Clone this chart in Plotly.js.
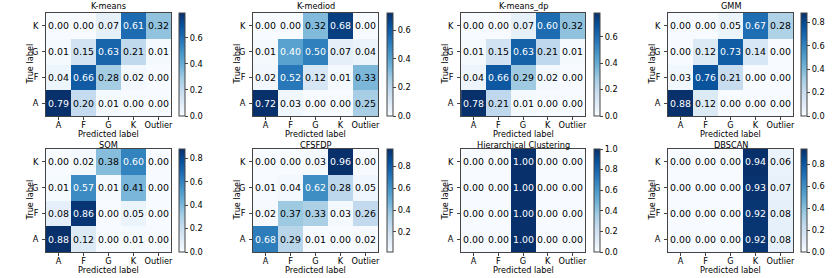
<!DOCTYPE html>
<html>
<head>
<meta charset="utf-8">
<script src="https://cdn.plot.ly/plotly-3.0.1.min.js"></script>
<style>html,body{margin:0;padding:0;background:#fff;}#chart{width:834px;height:278px;}</style>
</head>
<body>
<div id="chart"></div>
<script>
// ---- data ----
const predictedLabels = ['A', 'F', 'G', 'K', 'Outlier'];
const trueLabels = ['A', 'F', 'G', 'K'];   // bottom to top
const titles = ['K-means', 'K-mediod', 'K-means_dp', 'GMM', 'SOM', 'CFSFDP', 'Hierarchical Clustering', 'DBSCAN'];

// rows: true label A, F, G, K ; columns: A, F, G, K, Outlier
const kmeans = [
  [0.79, 0.20, 0.01, 0.00, 0.00],
  [0.04, 0.66, 0.28, 0.02, 0.00],
  [0.01, 0.15, 0.63, 0.21, 0.01],
  [0.00, 0.00, 0.07, 0.61, 0.32]
];
const kmediod = [
  [0.72, 0.03, 0.00, 0.00, 0.25],
  [0.02, 0.52, 0.12, 0.01, 0.33],
  [0.01, 0.40, 0.50, 0.07, 0.04],
  [0.00, 0.00, 0.32, 0.68, 0.00]
];
const kmeansDp = [
  [0.78, 0.21, 0.01, 0.00, 0.00],
  [0.04, 0.66, 0.29, 0.02, 0.00],
  [0.01, 0.15, 0.63, 0.21, 0.01],
  [0.00, 0.00, 0.07, 0.60, 0.32]
];
const gmm = [
  [0.88, 0.12, 0.00, 0.00, 0.00],
  [0.03, 0.76, 0.21, 0.00, 0.00],
  [0.00, 0.12, 0.73, 0.14, 0.00],
  [0.00, 0.00, 0.05, 0.67, 0.28]
];
const som = [
  [0.88, 0.12, 0.00, 0.01, 0.00],
  [0.08, 0.86, 0.00, 0.05, 0.00],
  [0.01, 0.57, 0.01, 0.41, 0.00],
  [0.00, 0.02, 0.38, 0.60, 0.00]
];
const cfsfdp = [
  [0.68, 0.29, 0.01, 0.00, 0.02],
  [0.02, 0.37, 0.33, 0.03, 0.26],
  [0.01, 0.04, 0.62, 0.28, 0.05],
  [0.00, 0.00, 0.03, 0.96, 0.00]
];
const hierarchical = [
  [0.00, 0.00, 1.00, 0.00, 0.00],
  [0.00, 0.00, 1.00, 0.00, 0.00],
  [0.00, 0.00, 1.00, 0.00, 0.00],
  [0.00, 0.00, 1.00, 0.00, 0.00]
];
const dbscan = [
  [0.00, 0.00, 0.00, 0.92, 0.08],
  [0.00, 0.00, 0.00, 0.92, 0.08],
  [0.00, 0.00, 0.00, 0.93, 0.07],
  [0.00, 0.00, 0.00, 0.94, 0.06]
];
const matrices = [kmeans, kmediod, kmeansDp, gmm, som, cfsfdp, hierarchical, dbscan];

// ---- styling / layout ----
const W = 834, H = 278;
const blues = [
  [0.0, '#f7fbff'], [0.125, '#deebf7'], [0.25, '#c6dbef'], [0.375, '#9ecae1'],
  [0.5, '#6baed6'], [0.625, '#4292c6'], [0.75, '#2171b5'], [0.875, '#08519c'], [1.0, '#08306b']
];
const colX = [[46, 171], [253, 378], [461, 585], [668, 793]];
const cbX = [179, 387, 594, 801];
const rowY = [[13, 116], [149, 252]];
const titleY = [6, 145];
const FONT = 'DejaVu Sans, sans-serif';
const small = 8.2, cellSize = 9.4;
const lineCol = '#444';

const traces = [];
const layout = {
  width: W, height: H,
  margin: {l: 0, r: 0, t: 0, b: 0},
  paper_bgcolor: '#fff', plot_bgcolor: '#fff',
  font: {family: FONT, size: small, color: '#000'},
  showlegend: false,
  annotations: []
};

matrices.forEach((m, i) => {
  const r = Math.floor(i / 4), c = i % 4;
  const n = i + 1;
  const xs = n === 1 ? 'x' : 'x' + n;
  const ys = n === 1 ? 'y' : 'y' + n;
  const xk = n === 1 ? 'xaxis' : 'xaxis' + n;
  const yk = n === 1 ? 'yaxis' : 'yaxis' + n;
  const [px0, px1] = colX[c];
  const [py0, py1] = rowY[r];
  const flat = m.flat();
  const zmax = Math.max(...flat);
  let zmin = Math.min(...flat);
  if (i === 5) zmin = 0.015;
  const thresh = (Math.max(...flat) + Math.min(...flat)) / 2;

  traces.push({
    type: 'heatmap', x: predictedLabels, y: trueLabels, z: m,
    xaxis: xs, yaxis: ys, colorscale: blues, zmin: zmin, zmax: zmax,
    hoverinfo: 'skip',
    colorbar: {
      x: cbX[c] / W, xanchor: 'left', xpad: 0, ypad: 0,
      y: 1 - py1 / H, yanchor: 'bottom', len: (py1 - py0) / H, lenmode: 'fraction',
      thickness: 6, thicknessmode: 'pixels',
      outlinewidth: 1, outlinecolor: lineCol,
      ticks: 'outside', ticklen: 3, tickcolor: lineCol,
      tick0: 0, dtick: 0.2, tickformat: '.1f',
      tickfont: {family: FONT, size: small, color: '#000'}
    }
  });

  const axCommon = {
    showgrid: false, zeroline: false, showline: true, mirror: true,
    linecolor: lineCol, linewidth: 1, ticks: 'outside', ticklen: 3, tickcolor: lineCol,
    tickfont: {family: FONT, size: small, color: '#000'}, fixedrange: true
  };
  layout[xk] = Object.assign({}, axCommon, {domain: [px0 / W, px1 / W], anchor: ys, type: 'category', ticklabelstandoff: -2});
  layout[yk] = Object.assign({}, axCommon, {domain: [1 - py1 / H, 1 - py0 / H], anchor: xs, type: 'category', ticklabelstandoff: 2});

  // cell texts
  m.forEach((row, ri) => {
    row.forEach((v, ci) => {
      layout.annotations.push({
        xref: xs, yref: ys, x: predictedLabels[ci], y: trueLabels[ri],
        text: v.toFixed(2), showarrow: false,
        font: {family: FONT, size: cellSize, color: v > thresh ? '#ffffff' : '#000000'}
      });
    });
  });

  // title
  layout.annotations.push({
    xref: 'paper', yref: 'paper', x: (px0 + px1) / 2 / W, y: 1 - titleY[r] / H,
    xanchor: 'center', yanchor: 'middle', text: titles[i], showarrow: false,
    font: {family: FONT, size: small, color: '#000'}
  });
  // x label
  layout.annotations.push({
    xref: 'paper', yref: 'paper', x: (px0 + px1) / 2 / W, y: 1 - (py1 + 18) / H,
    xanchor: 'center', yanchor: 'middle', text: 'Predicted label', showarrow: false,
    font: {family: FONT, size: small, color: '#000'}
  });
  // y label
  layout.annotations.push({
    xref: 'paper', yref: 'paper', x: (px0 - 17) / W, y: 1 - (py0 + py1) / 2 / H,
    xanchor: 'center', yanchor: 'middle', text: 'True label', textangle: -90, showarrow: false,
    font: {family: FONT, size: small, color: '#000'}
  });
});

Plotly.newPlot('chart', traces, layout, {displayModeBar: false, staticPlot: true});
</script>
</body>
</html>
